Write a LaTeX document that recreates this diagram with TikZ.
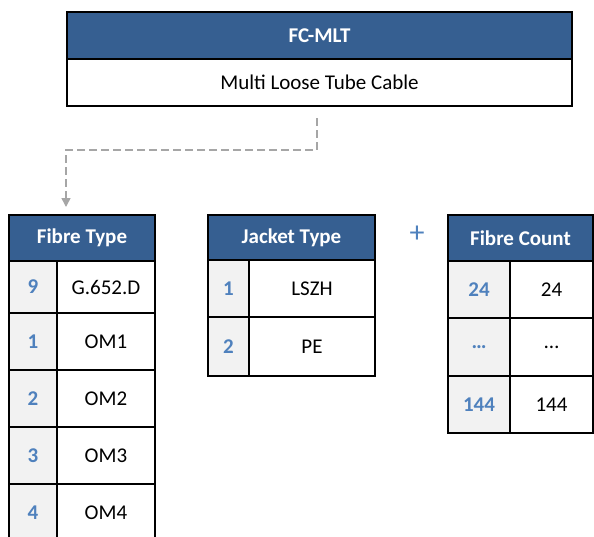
\documentclass[tikz,border=0pt]{standalone}
\usepackage{fontspec}
\setmainfont{Carlito}
\usetikzlibrary{arrows.meta}

\definecolor{hdrblue}{RGB}{54,95,145}
\definecolor{keyblue}{RGB}{79,129,189}
\definecolor{keygray}{RGB}{242,242,242}
\definecolor{linkgray}{RGB}{166,166,166}

\tikzset{
    cell/.style={draw=black, line width=2pt, inner sep=0pt, font=\fontsize{21}{25}\selectfont},
    hdr/.style={cell, fill=hdrblue, text=white, font=\fontsize{21}{25}\selectfont\bfseries},
    keycell/.style={cell, fill=keygray, text=keyblue, font=\fontsize{21}{25}\selectfont\bfseries},
    valcell/.style={cell, fill=white},
    link/.style={draw=linkgray, line width=1.5pt, dash pattern=on 8pt off 4pt,
        -{Triangle[width=9pt,length=9pt]}},
}

\begin{document}
\begin{tikzpicture}[x=1pt,y=-1pt]
    \useasboundingbox (0,0) rectangle (594,536);

    % cable code
    \node[hdr, minimum width=505pt, minimum height=47pt] (mlt) at (319.5,35.5) {FC-MLT};
    \node[valcell, minimum width=505pt, minimum height=47pt] (mltname) at (319.5,82.5) {Multi Loose Tube Cable};

    % fibre type
    \node[hdr, minimum width=146pt, minimum height=46pt] (fthdr) at (82,238) {Fibre Type};
    \foreach \k/\v/\y/\h [count=\i] in {9/G.652.D/287/52, 1/OM1/341.5/57, 2/OM2/398.5/57,
                                       3/OM3/455.5/57, 4/OM4/512.5/57}{
        \node[keycell, minimum width=48pt, minimum height=\h pt] (ftk\i) at (33,\y) {\k};
        \node[valcell, minimum width=98pt, minimum height=\h pt] (ftv\i) at (106,\y) {\v};
    }

    % jacket type
    \node[hdr, minimum width=167pt, minimum height=45pt] (jthdr) at (291.5,237.5) {Jacket Type};
    \foreach \k/\v/\y/\h [count=\i] in {1/LSZH/288.5/57, 2/PE/346.5/59}{
        \node[keycell, minimum width=41pt, minimum height=\h pt] (jtk\i) at (228.5,\y) {\k};
        \node[valcell, minimum width=126pt, minimum height=\h pt] (jtv\i) at (312,\y) {\v};
    }

    \node[font=\fontsize{30}{34}\selectfont, text=keyblue] (plus) at (417,234) {+};

    % fibre count
    \node[hdr, minimum width=145pt, minimum height=46pt] (fchdr) at (520.5,238) {Fibre Count};
    \foreach \k/\v/\y/\h [count=\i] in {24/24/289.5/57, …/…/347/58, 144/144/404.5/57}{
        \node[keycell, minimum width=62pt, minimum height=\h pt] (fck\i) at (479,\y) {\k};
        \node[valcell, minimum width=83pt, minimum height=\h pt] (fcv\i) at (551.5,\y) {\v};
    }

    \coordinate (lkstart) at (317,118);
    \coordinate (lkend) at (66,207);
    \draw[link] (lkstart) -- ++(0,32) -| (lkend);
\end{tikzpicture}
\end{document}
